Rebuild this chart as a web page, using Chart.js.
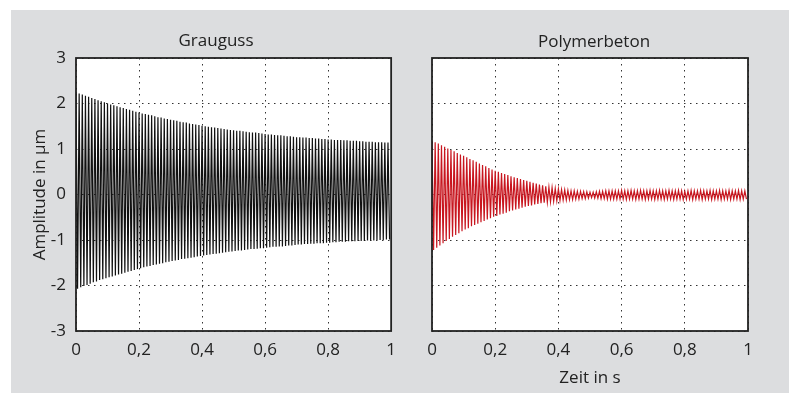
<!DOCTYPE html>
<html>
<head>
<meta charset="utf-8">
<script src="https://cdn.jsdelivr.net/npm/chart.js@4.4.1/dist/chart.umd.min.js"></script>
<style>
  body { margin: 0; background: #fff; width: 789px; height: 393px; position: relative; overflow: hidden; }
  #panel { position: absolute; left: 11px; top: 10px; width: 778px; height: 383px; background: #dcdddf; }
  canvas { position: absolute; top: 0; }
  #leftChart { left: 0; }
  #rightChart { left: 400px; }
  .title { position: absolute; font-family: "Open Sans", sans-serif; font-size: 17px; color: #222; transform: translate(-50%, -50%); white-space: nowrap; }
</style>
</head>
<body>
<div id="panel"></div>
<canvas id="leftChart" width="405" height="393"></canvas>
<canvas id="rightChart" width="389" height="393"></canvas>
<div class="title" style="left:216px; top:39px;">Grauguss</div>
<div class="title" style="left:594px; top:40px;">Polymerbeton</div>
<script>
const period = 0.01;

const graugussPeaks = [
  2.25, 2.22, 2.20, 2.17, 2.15, 2.12, 2.10, 2.07, 2.05, 2.03,
  2.00, 1.98, 1.96, 1.94, 1.92, 1.90, 1.88, 1.86, 1.84, 1.82,
  1.80, 1.78, 1.77, 1.75, 1.74, 1.72, 1.70, 1.69, 1.67, 1.66,
  1.64, 1.63, 1.62, 1.60, 1.59, 1.58, 1.56, 1.55, 1.54, 1.53,
  1.51, 1.50, 1.49, 1.48, 1.47, 1.46, 1.45, 1.44, 1.43, 1.42,
  1.41, 1.40, 1.40, 1.39, 1.38, 1.37, 1.36, 1.36, 1.35, 1.34,
  1.33, 1.32, 1.32, 1.31, 1.30, 1.30, 1.29, 1.28, 1.28, 1.27,
  1.26, 1.26, 1.25, 1.25, 1.24, 1.24, 1.23, 1.23, 1.22, 1.22,
  1.21, 1.21, 1.20, 1.20, 1.20, 1.19, 1.19, 1.18, 1.18, 1.18,
  1.17, 1.17, 1.16, 1.16, 1.16, 1.15, 1.15, 1.15, 1.14, 1.14
];
const graugussTroughs = [
  -2.07, -2.04, -2.01, -1.99, -1.96, -1.93, -1.91, -1.88, -1.86, -1.84,
  -1.82, -1.80, -1.78, -1.76, -1.74, -1.72, -1.70, -1.68, -1.66, -1.64,
  -1.62, -1.60, -1.58, -1.57, -1.55, -1.54, -1.52, -1.51, -1.49, -1.48,
  -1.46, -1.45, -1.44, -1.42, -1.41, -1.40, -1.39, -1.38, -1.36, -1.35,
  -1.34, -1.33, -1.32, -1.31, -1.30, -1.29, -1.28, -1.27, -1.26, -1.25,
  -1.24, -1.23, -1.23, -1.22, -1.21, -1.20, -1.20, -1.19, -1.18, -1.18,
  -1.17, -1.16, -1.15, -1.15, -1.14, -1.14, -1.13, -1.12, -1.12, -1.11,
  -1.10, -1.10, -1.09, -1.09, -1.08, -1.08, -1.07, -1.07, -1.07, -1.06,
  -1.06, -1.05, -1.05, -1.04, -1.04, -1.04, -1.03, -1.03, -1.03, -1.02,
  -1.02, -1.02, -1.01, -1.01, -1.01, -1.00, -1.00, -1.00, -0.99, -0.99
];

const polymerPeaks = [
  1.18, 1.15, 1.12, 1.08, 1.05, 1.01, 0.98, 0.95, 0.91, 0.88,
  0.85, 0.82, 0.78, 0.75, 0.72, 0.68, 0.65, 0.62, 0.58, 0.55,
  0.52, 0.50, 0.47, 0.45, 0.43, 0.40, 0.38, 0.36, 0.34, 0.32,
  0.30, 0.28, 0.26, 0.24, 0.22, 0.20, 0.18, 0.16, 0.15, 0.13,
  0.12, 0.11, 0.10, 0.09, 0.08, 0.08, 0.07, 0.07, 0.06, 0.06,
  0.05, 0.05, 0.06, 0.07, 0.07, 0.08, 0.08, 0.08, 0.08, 0.08,
  0.09, 0.08, 0.08, 0.09, 0.08, 0.08, 0.09, 0.08, 0.08, 0.09,
  0.08, 0.08, 0.09, 0.08, 0.08, 0.09, 0.08, 0.08, 0.09, 0.08,
  0.07, 0.08, 0.09, 0.08, 0.08, 0.09, 0.08, 0.08, 0.09, 0.08,
  0.08, 0.09, 0.08, 0.08, 0.09, 0.08, 0.08, 0.09, 0.08, 0.08
];
const polymerTroughs = [
  -1.22, -1.17, -1.12, -1.07, -1.02, -0.98, -0.93, -0.89, -0.85, -0.81,
  -0.77, -0.74, -0.70, -0.67, -0.64, -0.61, -0.58, -0.55, -0.52, -0.49,
  -0.47, -0.44, -0.42, -0.40, -0.37, -0.35, -0.33, -0.31, -0.29, -0.27,
  -0.25, -0.24, -0.22, -0.21, -0.19, -0.18, -0.17, -0.16, -0.15, -0.14,
  -0.13, -0.12, -0.12, -0.11, -0.11, -0.10, -0.10, -0.09, -0.09, -0.08,
  -0.07, -0.08, -0.08, -0.09, -0.09, -0.10, -0.10, -0.10, -0.10, -0.10,
  -0.10, -0.11, -0.10, -0.10, -0.11, -0.10, -0.10, -0.11, -0.10, -0.10,
  -0.11, -0.10, -0.10, -0.11, -0.10, -0.10, -0.11, -0.10, -0.10, -0.11,
  -0.10, -0.10, -0.11, -0.10, -0.10, -0.11, -0.10, -0.10, -0.11, -0.10,
  -0.10, -0.11, -0.10, -0.10, -0.11, -0.10, -0.10, -0.11, -0.10, -0.10
];

const timeTicks = [0, 0.2, 0.4, 0.6, 0.8, 1];
const ampTicks = [-3, -2, -1, 0, 1, 2, 3];

function buildPoints(peaks, troughs) {
  const pts = [];
  for (let i = 0; i < peaks.length; i++) {
    pts.push({ x: i * period, y: peaks[i] });
    pts.push({ x: (i + 0.5) * period, y: troughs[i] });
  }
  return pts;
}

// German decimal comma, no trailing ",0"
const fmt = v => String(Math.round(v * 10) / 10).replace('.', ',');

const textFont = { family: "'Open Sans', sans-serif", size: 17 };
const textColor = '#222';

// white plot background and the closed frame round it
const frame = {
  id: 'frame',
  beforeDraw(chart) {
    const a = chart.chartArea;
    chart.ctx.save();
    chart.ctx.fillStyle = '#fff';
    chart.ctx.fillRect(a.left, a.top, a.right - a.left, a.bottom - a.top);
    chart.ctx.restore();
  },
  afterDraw(chart) {
    const a = chart.chartArea;
    const ctx = chart.ctx;
    ctx.save();
    ctx.strokeStyle = '#222';
    ctx.lineWidth = 1.8;
    ctx.strokeRect(a.left, a.top, a.right - a.left, a.bottom - a.top);
    ctx.restore();
  }
};

function makeChart(id, points, color, opts) {
  const ctx = document.getElementById(id).getContext('2d');
  return new Chart(ctx, {
    type: 'line',
    data: {
      datasets: [{
        data: points,
        borderColor: color,
        borderWidth: 1.2,
        pointRadius: 0,
        tension: 0,
        fill: false
      }]
    },
    options: {
      responsive: false,
      animation: false,
      layout: { padding: opts.padding },
      plugins: { legend: { display: false }, tooltip: { enabled: false } },
      scales: {
        x: {
          type: 'linear',
          min: 0,
          max: 1,
          z: 1,
          afterBuildTicks: s => { s.ticks = timeTicks.map(v => ({ value: v })); },
          afterFit: s => { s.height = 62; },
          ticks: { font: textFont, color: textColor, padding: 9, maxRotation: 0, callback: fmt },
          grid: { color: '#333', lineWidth: 1, drawTicks: false },
          border: { display: false, dash: [1.5, 4.5] },
          title: {
            display: !!opts.xTitle,
            text: opts.xTitle || '',
            font: textFont,
            color: textColor,
            padding: { top: 0, bottom: 5 }
          }
        },
        y: {
          min: -3,
          max: 3,
          z: 1,
          afterBuildTicks: s => { s.ticks = ampTicks.map(v => ({ value: v })); },
          afterFit: s => { s.width = opts.yWidth; },
          ticks: { display: opts.showY, font: textFont, color: textColor, padding: 10, callback: fmt },
          grid: { color: '#333', lineWidth: 1, drawTicks: false },
          border: { display: false, dash: [1.5, 4.5] },
          title: {
            display: opts.showY,
            text: 'Amplitude in µm',
            font: textFont,
            color: textColor,
            padding: { top: 30, bottom: 0 }
          }
        }
      }
    },
    plugins: [frame]
  });
}

makeChart('leftChart', buildPoints(graugussPeaks, graugussTroughs), '#111', {
  padding: { top: 58, left: 0, right: 0, bottom: 0 },
  yWidth: 76,
  showY: true
});

makeChart('rightChart', buildPoints(polymerPeaks, polymerTroughs), '#c8161f', {
  padding: { top: 58, left: 32, right: 41, bottom: 0 },
  yWidth: 0,
  showY: false,
  xTitle: 'Zeit in s'
});
</script>
</body>
</html>
